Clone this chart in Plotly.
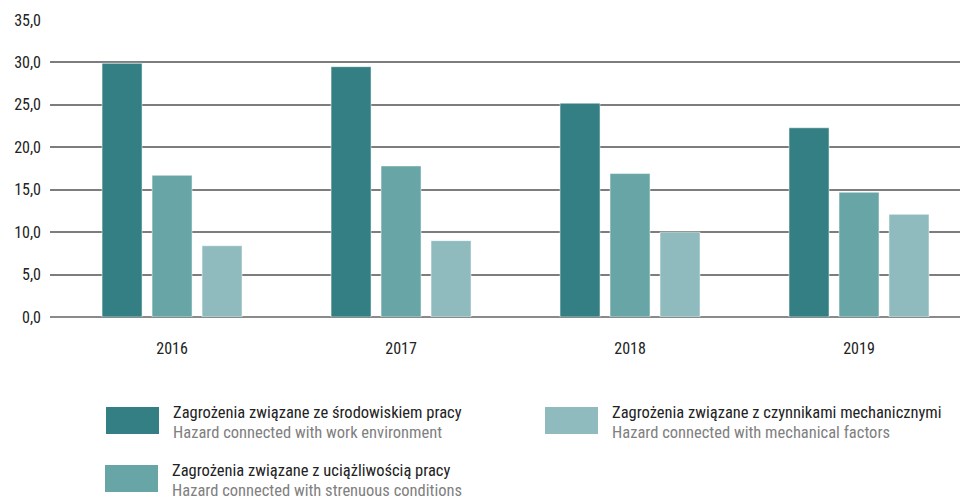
import plotly.graph_objects as go

years = ["2016", "2017", "2018", "2019"]
env_values = [29.9, 29.5, 25.2, 22.3]
strenuous_values = [16.7, 17.8, 16.9, 14.7]
mechanical_values = [8.4, 9.0, 10.0, 12.1]

names_pl = [
    "Zagrożenia związane ze środowiskiem pracy",
    "Zagrożenia związane z uciążliwością pracy",
    "Zagrożenia związane z czynnikami mechanicznymi",
]
names_en = [
    "Hazard connected with work environment",
    "Hazard connected with strenuous conditions",
    "Hazard connected with mechanical factors",
]
colors = ["#347F83", "#68A5A6", "#8FBBBE"]
series = [env_values, strenuous_values, mechanical_values]

FONT = "Liberation Sans Narrow, Roboto Condensed, Arial Narrow, Roboto, sans-serif"

fig = go.Figure()
for vals, name, col in zip(series, names_pl, colors):
    fig.add_trace(go.Bar(
        x=years, y=vals, name=name,
        marker=dict(color=col, line=dict(color="rgba(255,255,255,0.5)", width=1)),
        showlegend=False,
    ))

fig.update_layout(
    width=960, height=499,
    margin=dict(l=50, r=0, t=20, b=182),
    paper_bgcolor="white", plot_bgcolor="white",
    barmode="group", bargap=0.345, bargroupgap=0.2,
    separators=", ",
    font=dict(family=FONT, size=16, color="#222222"),
    xaxis=dict(type="category", range=[-0.533, 3.441], showgrid=False,
               showline=False, ticks="", ticklabelstandoff=20,
               tickfont=dict(size=16, color="#222222")),
    yaxis=dict(range=[0, 35], dtick=5, tickformat=".1f", showgrid=True,
               gridcolor="#7d7d7d", gridwidth=1.5, zeroline=True,
               zerolinecolor="#8a8a8a", zerolinewidth=2, showline=False,
               ticks="", ticklabelstandoff=8, tickfont=dict(size=16, color="#222222")),
)


def px_x(v):
    return (v - 50) / 910


def px_y(v):
    return (317 - v) / 297


# Custom legend (two columns)
legend_pos = [(106, 407), (105, 465), (545, 407)]
for (px, py), col, pl, en in zip(legend_pos, colors, names_pl, names_en):
    fig.add_shape(type="rect", xref="paper", yref="paper",
                  x0=px_x(px), x1=px_x(px + 53),
                  y0=px_y(py + 27), y1=px_y(py),
                  fillcolor=col, line=dict(width=0))
    fig.add_annotation(xref="paper", yref="paper", x=px_x(px + 65),
                       y=px_y(py + 5), xanchor="left", yanchor="middle",
                       showarrow=False, text=pl,
                       font=dict(family=FONT, size=16.5, color="#222222"))
    fig.add_annotation(xref="paper", yref="paper", x=px_x(px + 65),
                       y=px_y(py + 25.5), xanchor="left", yanchor="middle",
                       showarrow=False, text=en,
                       font=dict(family=FONT, size=16.5, color="#808080"))

fig.write_html("out.html", config={"displayModeBar": False},
               post_script="document.body.style.margin='0';")
